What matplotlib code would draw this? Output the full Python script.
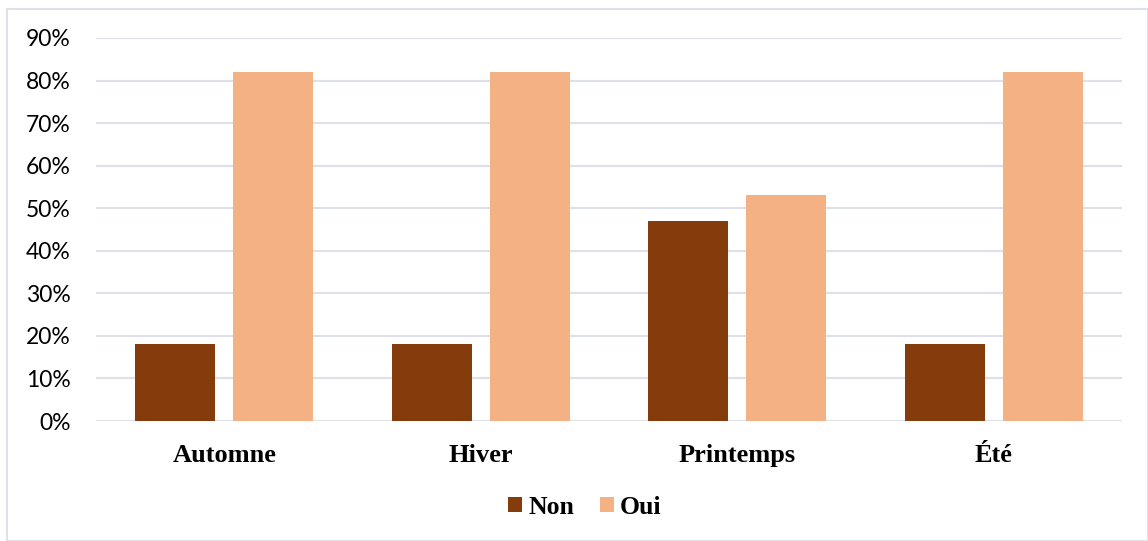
import numpy as np
import matplotlib.pyplot as plt
from matplotlib.patches import Rectangle

categories = ["Automne", "Hiver", "Printemps", "Été"]
non = [0.18, 0.18, 0.47, 0.18]
oui = [0.82, 0.82, 0.53, 0.82]

c_non = "#843c0c"
c_oui = "#f4b183"
grid_c = "#dfe1ea"

fig = plt.figure(figsize=(11.48, 5.41), dpi=100)
ax = fig.add_axes([0.0836, 0.2218, 0.8938, 0.708])

# outer chart frame
fig.patches.append(Rectangle((7/1148, 0), 1 - 7/1148 - 0.5/1148, 1 - 9/541,
                             transform=fig.transFigure, fill=False,
                             edgecolor=grid_c, lw=1.5))

x = np.arange(len(categories))
w = 0.312
off = 0.191
ax.bar(x - off, non, w, color=c_non, label="Non", zorder=3)
ax.bar(x + off, oui, w, color=c_oui, label="Oui", zorder=3)

ax.set_xlim(-0.5, len(categories) - 0.5)
ax.set_ylim(0, 0.9)
ax.set_yticks(np.arange(0, 0.91, 0.1))
ax.set_yticklabels([f"{int(round(v*100))}%" for v in np.arange(0, 0.91, 0.1)],
                   fontsize=16.5, family="Lato")
ax.yaxis.grid(True, color=grid_c, lw=1.5, zorder=0)
ax.set_xticks(x)
ax.set_xticklabels(categories, fontsize=19, family="Liberation Serif", fontweight="bold")
ax.tick_params(axis="both", length=0)
ax.tick_params(axis="y", pad=18)
ax.tick_params(axis="x", pad=16.5)
for s in ax.spines.values():
    s.set_visible(False)

leg = fig.legend(loc="center", bbox_to_anchor=(585/1148, 1 - 507/541), ncol=2,
                 frameon=False, handlelength=0.55, handleheight=0.55,
                 handletextpad=0.25, columnspacing=0.97,
                 prop={"family": "Liberation Serif", "weight": "bold", "size": 18.5})

fig.savefig("out.png", dpi=100)
